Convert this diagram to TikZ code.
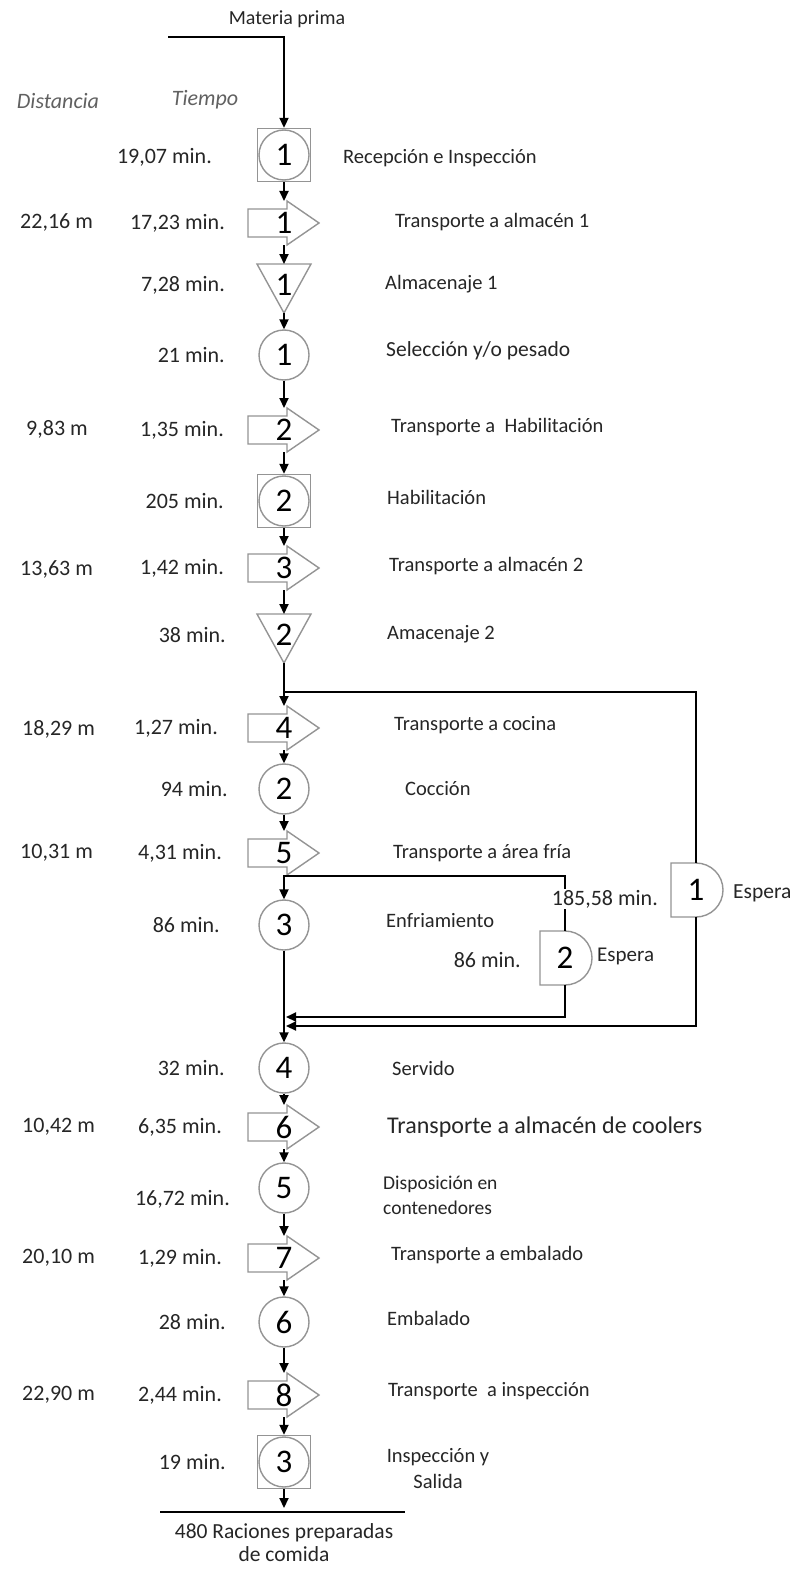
\documentclass[tikz,border=0pt]{standalone}
\usepackage{fontspec}
\setmainfont{Carlito}
\usetikzlibrary{arrows.meta}
\newcommand{\fsz}[2]{\fontsize{#1}{#2}\selectfont}
\tikzset{
  shp/.style={draw=black!42, line width=1.4pt, fill=white},
  conn/.style={draw=black, line width=2pt},
  arr/.style={conn, -{Triangle[length=10pt,width=9pt]}},
  opc/.style={circle, shp, minimum size=50pt, inner sep=0pt, font=\fsz{33}{35}},
  sqb/.style={rectangle, shp, minimum size=53pt, inner sep=0pt},
  num/.style={font=\fsz{33}{35}, inner sep=0pt},
  lt/.style={font=\fsz{22}{26}, text=black!85, inner sep=0pt, anchor=east},
  dt/.style={font=\fsz{22}{26}, text=black!85, inner sep=0pt, anchor=west},
  rt/.style={font=\fsz{20.5}{24}, text=black!85, inner sep=0pt, anchor=west},
  hd/.style={font=\fsz{22}{26}\itshape, text=black!62, inner sep=0pt}
}
\newcommand{\tshp}[3]{%
  \draw[shp] (248,#2-14) -- (287,#2-14) -- (287,#2-22) -- (319,#2) -- (287,#2+22) -- (287,#2+14) -- (248,#2+14) -- cycle;
  \node[num] (#1) at (284,#2) {#3};
  \coordinate (#1t) at (284,#2-22);
  \coordinate (#1b) at (284,#2+22);
}
\newcommand{\stor}[3]{%
  \draw[shp] (257,#2) -- (311,#2) -- (284,#2+49) -- cycle;
  \node[num] (#1) at (284,#2+21) {#3};
  \coordinate (#1t) at (284,#2);
  \coordinate (#1b) at (284,#2+49);
}
\newcommand{\dly}[4]{%
  \draw[shp] (#2-25,#3-27) -- (#2,#3-27) arc[start angle=90,end angle=-90,radius=27pt] -- (#2-25,#3+27) -- cycle;
  \node[num] (#1) at (#2,#3) {#4};
  \coordinate (#1t) at (#2,#3-27);
  \coordinate (#1b) at (#2,#3+27);
}
\begin{document}
\begin{tikzpicture}[x=1pt,y=-1pt]
\fill[white] (0,0) rectangle (791,1573);
\useasboundingbox (0,0) rectangle (791,1573);

% header
\node[font=\fsz{20}{24}, text=black!85, inner sep=0pt] (mp) at (287,19) {Materia prima};
\node[hd] (hdist) at (58,101) {Distancia};
\node[hd] (htime) at (205,100) {Tiempo};

% shapes
\node[sqb] (cs1) at (284,155) {};
\node[opc] (cs1c) at (cs1) {1};
\tshp{t1}{223}{1}
\stor{s1}{264}{1}
\node[opc] (c1) at (284,355) {1};
\tshp{t2}{430}{2}
\node[sqb] (cs2) at (284,501) {};
\node[opc] (cs2c) at (cs2) {2};
\tshp{t3}{568}{3}
\stor{s2}{614}{2}
\tshp{t4}{728}{4}
\node[opc] (c2) at (284,789) {2};
\tshp{t5}{853}{5}
\node[opc] (c3) at (284,925) {3};
\node[opc] (c4) at (284,1068) {4};
\tshp{t6}{1127}{6}
\node[opc] (c5) at (284,1188) {5};
\tshp{t7}{1258}{7}
\node[opc] (c6) at (284,1322) {6};
\tshp{t8}{1395}{8}
\node[sqb] (cs3) at (284,1462) {};
\node[opc] (cs3c) at (cs3) {3};

% connectors main
\coordinate (mps) at (168,37);
\coordinate (mpc) at (284,37);
\draw[arr] (mps) -- (mpc) -- (cs1.north);
\draw[arr] (cs1.south) -- (t1t);
\draw[arr] (t1b) -- (s1t);
\draw[arr] (s1b) -- (c1.north);
\draw[arr] (c1.south) -- (t2t);
\draw[arr] (t2b) -- (cs2.north);
\draw[arr] (cs2.south) -- (t3t);
\draw[arr] (t3b) -- (s2t);
\draw[arr] (s2b) -- (t4t);
\draw[arr] (t4b) -- (c2.north);
\draw[arr] (c2.south) -- (t5t);
\draw[arr] (t5b) -- (c3.north);
\draw[arr] (c3.south) -- (c4.north);
\draw[arr] (c4.south) -- (t6t);
\draw[arr] (t6b) -- (c5.north);
\draw[arr] (c5.south) -- (t7t);
\draw[arr] (t7b) -- (c6.north);
\draw[arr] (c6.south) -- (t8t);
\draw[arr] (t8b) -- (cs3.north);
\coordinate (endp) at (284,1508);
\draw[arr] (cs3.south) -- (endp);

% loops
\coordinate (ol1) at (284,692);
\coordinate (ol2) at (696,692);
\coordinate (ol3) at (696,1026);
\coordinate (ol4) at (286,1026);
\coordinate (il1) at (284,876);
\coordinate (il2) at (565,876);
\coordinate (il3) at (565,1017);
\coordinate (il4) at (286,1017);
\dly{d1}{696}{890}{1}
\dly{d2}{565}{958}{2}
\draw[conn] (ol1) -- (ol2) -- (d1t);
\draw[arr] (d1b) -- (ol3) -- (ol4);
\draw[conn] (il1) -- (il2) -- (d2t);
\draw[arr] (d2b) -- (il3) -- (il4);

% bottom
\coordinate (bl1) at (160,1512);
\coordinate (bl2) at (405,1512);
\draw[line width=1.3pt] (bl1) -- (bl2);
\node[font=\fsz{21.5}{23}, text=black!85, align=center, inner sep=0pt] (out) at (284,1543) {480 Raciones preparadas\\de comida};

% time labels
\node[lt] (l1) at (212,157) {19,07 min.};
\node[lt] (l2) at (225,223) {17,23 min.};
\node[lt] (l3) at (225,285) {7,28 min.};
\node[lt] (l4) at (225,355) {21 min.};
\node[lt] (l5) at (224,430) {1,35 min.};
\node[lt] (l6) at (224,501) {205 min.};
\node[lt] (l7) at (224,568) {1,42 min.};
\node[lt] (l8) at (226,635) {38 min.};
\node[lt] (l9) at (218,728) {1,27 min.};
\node[lt] (l10) at (228,789) {94 min.};
\node[lt] (l11) at (222,853) {4,31 min.};
\node[lt] (l12) at (220,925) {86 min.};
\node[lt] (l13) at (225,1068) {32 min.};
\node[lt] (l14) at (222,1127) {6,35 min.};
\node[lt] (l15) at (230,1199) {16,72 min.};
\node[lt] (l16) at (222,1258) {1,29 min.};
\node[lt] (l17) at (226,1322) {28 min.};
\node[lt] (l18) at (222,1395) {2,44 min.};
\node[lt] (l19) at (226,1462) {19 min.};
\node[lt, fill=white, inner sep=1pt] (ld1) at (659,899) {185,58 min.};
\node[lt] (ld2) at (521,960) {86 min.};

% distance labels
\node[dt] (m1) at (20,222) {22,16 m};
\node[dt] (m2) at (26,429) {9,83 m};
\node[dt] (m3) at (20,569) {13,63 m};
\node[dt] (m4) at (22,729) {18,29 m};
\node[dt] (m5) at (20,853) {10,31 m};
\node[dt] (m6) at (22,1127) {10,42 m};
\node[dt] (m7) at (22,1258) {20,10 m};
\node[dt] (m8) at (22,1395) {22,90 m};

% right labels
\node[rt] (r1) at (343,158) {Recepción e Inspección};
\node[rt] (r2) at (395,222) {Transporte a almacén 1};
\node[rt] (r3) at (385,284) {Almacenaje 1};
\node[rt, font=\fsz{21.5}{25}] (r4) at (386,351) {Selección y/o pesado};
\node[rt] (r5) at (391,427) {Transporte a \ Habilitación};
\node[rt] (r6) at (387,497) {Habilitación};
\node[rt] (r7) at (389,566) {Transporte a almacén 2};
\node[rt] (r8) at (387,634) {Amacenaje 2};
\node[rt] (r9) at (394,725) {Transporte a cocina};
\node[rt] (r10) at (405,789) {Cocción};
\node[rt] (r11) at (393,853) {Transporte a área fría};
\node[rt] (r12) at (386,921) {Enfriamiento};
\node[rt, font=\fsz{21.5}{25}] (r13) at (733,893) {Espera};
\node[rt, font=\fsz{21}{25}] (r14) at (597,956) {Espera};
\node[rt] (r15) at (392,1068) {Servido};
\node[rt, font=\fsz{24}{28}] (r16) at (387,1127) {Transporte a almacén de coolers};
\node[rt, align=left, font=\fsz{19.5}{25}] (r17) at (383,1195) {Disposición en\\contenedores};
\node[rt] (r18) at (391,1255) {Transporte a embalado};
\node[rt] (r19) at (387,1318) {Embalado};
\node[rt] (r20) at (388,1391) {Transporte \ a inspección};
\node[rt, anchor=center, align=center, font=\fsz{20.5}{26}] (r21) at (438,1469) {Inspección y\\Salida};
\end{tikzpicture}
\end{document}
